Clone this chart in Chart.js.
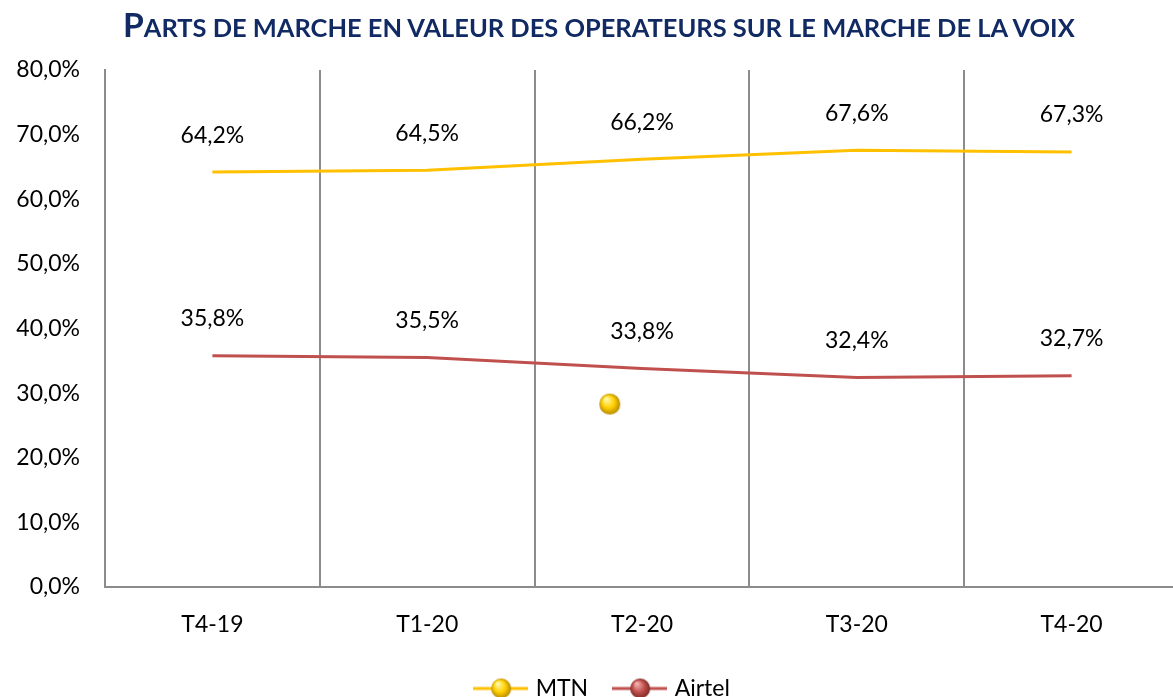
<!DOCTYPE html>
<html>
<head>
<meta charset="utf-8">
<script src="https://cdn.jsdelivr.net/npm/chart.js@4/dist/chart.umd.min.js"></script>
<style>
html, body { margin: 0; padding: 0; background: #fff; overflow: hidden; }
#wrap { position: relative; width: 1190px; height: 697px; }
#title {
	position: absolute; left: 123px; top: 4px; transform-origin: 0 0;
	font-family: Lato, sans-serif; font-weight: bold; color: #112a63; white-space: nowrap;
	font-size: 25px; line-height: 40px;
}
#title .cap { font-size: 33px; }
</style>
</head>
<body>
<div id="wrap">
	<div id="title"><span class="cap">P</span>ARTS DE MARCHE EN VALEUR DES OPERATEURS SUR LE MARCHE DE LA VOIX</div>
	<canvas id="myChart"></canvas>
</div>
<script>
'use strict';

var quarters = ['T4-19', 'T1-20', 'T2-20', 'T3-20', 'T4-20']
var mtnShare = [64.2, 64.5, 66.2, 67.6, 67.3]
var airtelShare = [35.8, 35.5, 33.8, 32.4, 32.7]
// stray MTN marker left in the original picture
var strayMarker = [{x: 1.85, y: 28.3}]
var yMin = 0, yMax = 80, yStep = 10

var mtnColor = '#ffc000', airtelColor = '#c0504d'

// fit the title to the width it has in the original
var title = document.getElementById('title')
title.style.transform = 'scaleX(' + (952 / title.offsetWidth) + ')'

function sphere(r, light, mid, dark) {
	var c = document.createElement('canvas')
	c.width = c.height = r * 2 + 2
	var ctx = c.getContext('2d')
	var g = ctx.createRadialGradient(r * 0.75, r * 0.6, 1, r + 1, r + 1, r)
	g.addColorStop(0, light)
	g.addColorStop(0.55, mid)
	g.addColorStop(1, dark)
	ctx.fillStyle = g
	ctx.beginPath()
	ctx.arc(r + 1, r + 1, r, 0, Math.PI * 2)
	ctx.fill()
	return c
}

function legendMark(color, ball) {
	var c = document.createElement('canvas')
	c.width = 55
	c.height = 24
	var ctx = c.getContext('2d')
	ctx.strokeStyle = color
	ctx.lineWidth = 3
	ctx.beginPath()
	ctx.moveTo(0, 12)
	ctx.lineTo(55, 12)
	ctx.stroke()
	ctx.drawImage(ball, 28 - ball.width / 2, 12 - ball.height / 2)
	return c
}

var mtnBall = sphere(10.5, '#fff8a8', '#ffd000', '#b88a00')
var legendMarks = [
	legendMark(mtnColor, sphere(10, '#fff8a8', '#ffd000', '#b88a00')),
	legendMark(airtelColor, sphere(10, '#f4b0ae', '#c0504d', '#7e2a28'))
]

const fmt = (v) => v.toFixed(1).replace('.', ',') + '%'

var valueLabels = {
	id: 'valueLabels',
	afterLayout(chart) {
		// the legend sits a little right of centre in the original
		chart.legend.left += 12
		chart.legend.right += 12
	},
	afterDatasetsDraw(chart) {
		var ctx = chart.ctx
		ctx.save()
		ctx.font = '23px Lato'
		ctx.fillStyle = '#000'
		ctx.textAlign = 'center'
		ctx.textBaseline = 'middle'
		;[0, 1].forEach((i) => {
			var meta = chart.getDatasetMeta(i)
			meta.data.forEach((pt, j) => {
				ctx.fillText(fmt(chart.data.datasets[i].data[j]), pt.x, pt.y - 37)
			})
		})
		ctx.restore()
	}
}

var canvas = document.getElementById('myChart')
var chart = new Chart(canvas.getContext('2d'), {
	type: 'line',
	data: {
		labels: quarters,
		datasets: [
			{label: 'MTN', data: mtnShare, borderColor: mtnColor, borderWidth: 3, pointRadius: 0, tension: 0},
			{label: 'Airtel', data: airtelShare, borderColor: airtelColor, borderWidth: 3, pointRadius: 0, tension: 0},
			{type: 'scatter', label: 'stray', data: strayMarker, xAxisID: 'x2', showLine: false,
				pointStyle: mtnBall, pointRadius: 10}
		]
	},
	options: {
		responsive: true,
		maintainAspectRatio: false,
		animation: false,
		layout: {padding: {top: 70, right: 7, left: 0, bottom: -13}},
		plugins: {
			title: {display: false},
			tooltip: {enabled: false},
			legend: {
				position: 'bottom',
				labels: {
					usePointStyle: true,
					pointStyleWidth: 47,
					padding: 28,
					color: '#000',
					font: {family: 'Lato', size: 23},
					generateLabels(chart) {
						return chart.data.datasets.slice(0, 2).map((ds, i) => ({
							text: ds.label, datasetIndex: i, pointStyle: legendMarks[i],
							fillStyle: ds.borderColor, strokeStyle: ds.borderColor, lineWidth: 0, hidden: false
						}))
					}
				}
			}
		},
		scales: {
			x: {
				offset: true,
				grid: {display: true, offset: true, color: '#8c8c8c', lineWidth: 2, drawTicks: false},
				border: {display: true, color: '#8c8c8c', width: 2},
				ticks: {color: '#000', font: {family: 'Lato', size: 23}, padding: 24},
				afterFit(s) { s.height = 62 }
			},
			x2: {type: 'linear', display: false, min: -0.5, max: 4.5},
			y: {
				min: yMin, max: yMax,
				grid: {display: false, drawTicks: false},
				border: {display: true, color: '#8c8c8c', width: 2},
				ticks: {stepSize: yStep, color: '#000', font: {family: 'Lato', size: 23}, padding: 25,
					callback: (v) => fmt(v)},
				afterFit(s) { s.width = 105 }
			}
		}
	},
	plugins: [valueLabels]
})
</script>
</body>
</html>
